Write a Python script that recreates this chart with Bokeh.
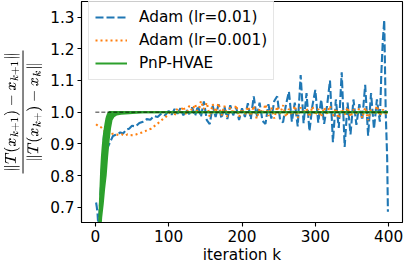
from bokeh.plotting import figure
from bokeh.models import Range1d, FixedTicker, TeX, NumeralTickFormatter
from bokeh.embed import file_html
from bokeh.resources import INLINE

# ---- data ----
blue_k = [1, 2, 3, 4, 5, 6, 7, 8, 9, 10, 11, 12, 13, 14, 15, 16, 17, 18, 20, 22,
          24, 27, 30, 34, 38, 42, 46, 50, 55, 60, 65, 70, 75, 80, 85, 90, 95, 100] \
         + list(range(104, 389, 4)) + [390, 392, 394, 396, 398, 399]
blue_v = [0.715, 0.70, 0.68, 0.64, 0.66, 0.70, 0.74, 0.78, 0.82, 0.86,
          0.90, 0.935, 0.925, 0.905, 0.895, 0.885, 0.89, 0.895, 0.905, 0.915,
          0.925, 0.928, 0.93, 0.936, 0.933, 0.945, 0.948, 0.957, 0.955, 0.966,
          0.97, 0.978, 0.976, 0.988, 0.985, 0.996, 0.99, 1.004,
          0.992, 1.010, 0.995, 1.012, 0.990, 1.008, 0.994, 1.015, 0.988, 1.020,
          0.985, 1.034, 0.975, 0.962, 1.020, 0.985, 1.025, 0.980, 1.018, 0.978,
          1.022, 0.990, 1.015, 0.975, 1.012, 0.985, 1.028, 0.978, 1.050, 0.985,
          1.030, 0.972, 0.963, 1.025, 0.980, 1.035, 1.050, 0.975, 0.968, 1.024,
          1.065, 0.970, 1.030, 0.955, 1.117, 0.965, 1.060, 0.940, 1.020, 1.070,
          0.967, 1.040, 0.963, 1.020, 1.100, 0.905, 1.040, 0.950, 1.126, 0.890,
          1.030, 0.930, 1.040, 0.960, 1.025, 0.975, 1.086, 0.926, 1.060, 0.947,
          1.040, 0.970,
          1.120, 1.224, 1.290, 1.000, 0.855, 0.686]

orange_k = [1, 3, 5, 8, 11, 14, 17, 20, 24, 28, 32, 36, 40, 44, 48, 52, 56, 60,
            64, 68, 72, 76, 80, 84, 88, 92, 96, 100] + list(range(104, 397, 4)) + [399]
orange_v = [0.962, 0.958, 0.955, 0.952, 0.945, 0.935, 0.928, 0.93, 0.932, 0.93,
            0.928, 0.93, 0.926, 0.93, 0.927, 0.928, 0.93, 0.933, 0.936, 0.94,
            0.945, 0.948, 0.955, 0.962, 0.97, 0.978, 0.985, 0.995,
            1.005, 0.990, 1.012, 1.000, 1.018, 0.992, 1.020, 1.005, 1.025, 0.995,
            1.035, 1.010, 1.030, 0.985, 1.025, 1.000, 1.028, 0.990, 1.020, 0.985,
            1.015, 0.995, 1.022, 0.985, 1.010, 0.992, 1.018, 0.988, 1.020, 0.980,
            1.012, 0.995, 1.025, 0.988, 1.015, 0.980, 1.018, 0.995, 1.022, 0.985,
            1.010, 0.990, 1.020, 0.982, 1.015, 0.995, 1.012, 0.985, 1.018, 0.990,
            1.010, 0.985, 1.015, 0.995, 1.020, 0.988, 1.012, 0.980, 1.010, 0.992,
            1.015, 0.985, 1.008, 0.995, 1.012, 0.982, 1.015, 0.975, 1.010, 0.992,
            1.020, 0.988, 1.008, 0.995, 1.000]

green_k = [4, 5, 6, 7, 8, 9, 10, 11, 12, 13, 14, 15, 16, 17, 18, 19, 20, 22, 25,
           29, 35, 46, 55, 64, 100, 200, 300, 399]
green_hi = [0.56, 0.62, 0.70, 0.76, 0.82, 0.86, 0.89, 0.915, 0.935, 0.95, 0.965,
            0.978, 0.987, 0.993, 0.997, 1.0, 1.0, 1.0, 1.0, 1.0, 1.0, 1.0, 1.0,
            1.0, 1.0, 1.0, 1.0, 1.0]
green_lo = [0.45, 0.50, 0.56, 0.64, 0.67, 0.69, 0.71, 0.735, 0.76, 0.78, 0.80,
            0.83, 0.86, 0.885, 0.91, 0.93, 0.95, 0.975, 0.987, 0.993, 0.995,
            0.997, 0.998, 1.0, 1.0, 1.0, 1.0, 1.0]

ref_k = [0, 400]
ref_v = [1.0, 1.0]

x_ticks = [0, 100, 200, 300, 400]
y_ticks = [0.7, 0.8, 0.9, 1.0, 1.1, 1.2, 1.3]

labels = ["Adam (lr=0.01)", "Adam (lr=0.001)", "PnP-HVAE"]
colors = ["#1f77b4", "#ff7f0e", "#2ca02c"]

FONT = "DejaVu Sans"
FS = "15.3px"

p = figure(width=404, height=266, output_backend="svg", toolbar_location=None,
           x_range=Range1d(-18.9, 418.9), y_range=Range1d(0.652, 1.349),
           min_border_left=72, min_border_right=2, min_border_top=1,
           min_border_bottom=44)

p.line(blue_k, blue_v, color=colors[0], line_width=2.1, line_dash="8 3",
       legend_label=labels[0])
p.line(orange_k, orange_v, color=colors[1], line_width=2.1, line_dash="2 3",
       legend_label=labels[1])
p.varea(x=green_k, y1=green_lo, y2=green_hi, fill_color=colors[2])
p.line(green_k, green_lo, color=colors[2], line_width=2.1)
p.line(green_k, green_hi, color=colors[2], line_width=2.1, legend_label=labels[2])
p.line(ref_k, ref_v, color="black", line_width=0.8, line_dash="4 2")

# axes styling (matplotlib-like)
p.grid.visible = False
p.outline_line_color = "black"
p.outline_line_width = 1.1
for ax in (p.xaxis[0], p.yaxis[0]):
    ax.axis_line_color = "black"
    ax.axis_line_width = 1.1
    ax.major_tick_line_color = "black"
    ax.major_tick_line_width = 1.1
    ax.major_tick_out = 4
    ax.major_tick_in = 0
    ax.minor_tick_line_color = None
    ax.major_label_text_font = FONT
    ax.major_label_text_font_size = FS
    ax.major_label_text_color = "black"
    ax.axis_label_text_font = FONT
    ax.axis_label_text_font_size = FS
    ax.axis_label_text_font_style = "normal"
    ax.axis_label_text_color = "black"

p.xaxis.ticker = FixedTicker(ticks=x_ticks)
p.yaxis.ticker = FixedTicker(ticks=y_ticks)
p.yaxis.formatter = NumeralTickFormatter(format="0.0")
p.xaxis.major_label_standoff = 3
p.yaxis.major_label_standoff = 3
p.xaxis.axis_label = "iteration k"
p.xaxis.axis_label_standoff = 1
p.yaxis.axis_label = TeX(text=r"\frac{\|T(x_{k+1})-x_{k+1}\|}{\|T(x_{k+})-x_k\|}")
p.yaxis.axis_label_text_font_size = "11.5px"
p.yaxis.axis_label_standoff = 5

lg = p.legend[0]
lg.location = (7, 142)
lg.label_text_font = FONT
lg.label_text_font_size = FS
lg.label_text_color = "black"
lg.glyph_width = 32
lg.glyph_height = 20
lg.label_height = 20
lg.label_standoff = 12
lg.spacing = 3
lg.padding = 6
lg.margin = 0
lg.border_line_color = "#cccccc"
lg.border_line_width = 1
lg.background_fill_alpha = 0.8

open("out.html", "w").write(file_html(p, INLINE))
